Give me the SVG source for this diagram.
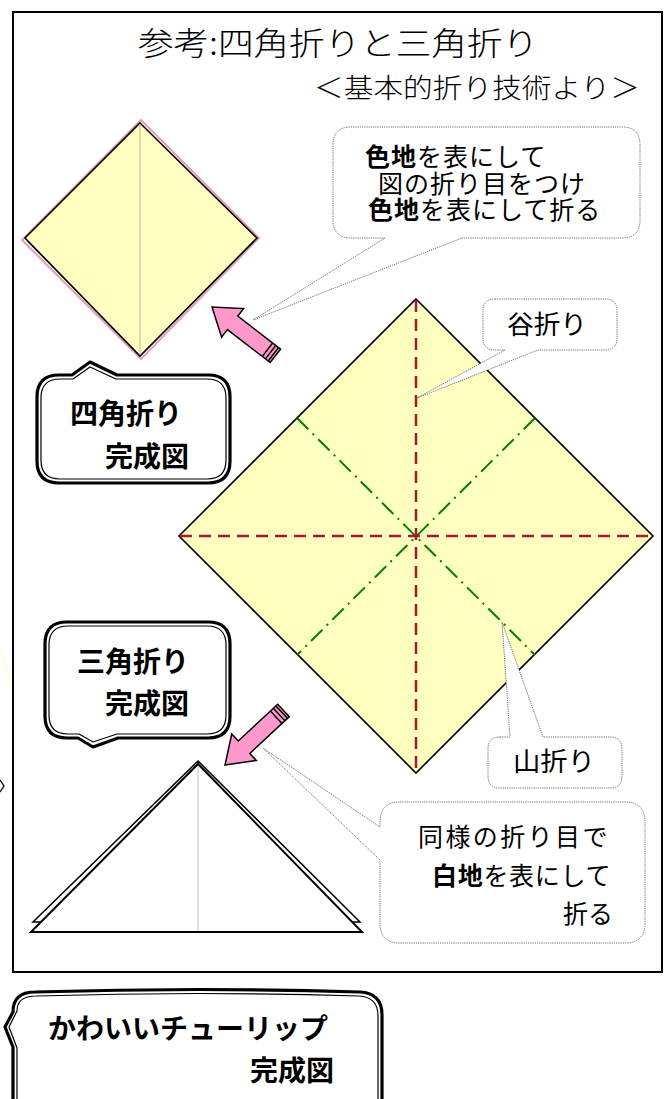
<svg xmlns="http://www.w3.org/2000/svg" width="665" height="1099" viewBox="0 0 665 1099">
  <style>
    text { font-family: "Noto Sans CJK JP", "Noto Sans", sans-serif; fill: #000; }
    .title { font-size: 32px; font-weight: 300; }
    .sub { font-size: 27px; font-weight: 300; }
    .note { font-size: 25px; }
    .b { font-weight: bold; }
    .label { font-size: 28px; font-weight: bold; }
    .bubble { fill: #fff; stroke: #6e6e6e; stroke-width: 1; stroke-dasharray: 1.2 1; }
    .tag-outer { fill: #fff; stroke: #000; stroke-width: 3.2; stroke-linejoin: round; }
    .tag-inner { fill: none; stroke: #000; stroke-width: 1.2; stroke-linejoin: round; }
    .paper { fill: #ffffc0; stroke: #000; stroke-width: 1.6; stroke-linejoin: miter; }
    .valley { stroke: #a8192e; stroke-width: 2.5; stroke-dasharray: 12 7; fill: none; }
    .mountain { stroke: #008000; stroke-width: 2; stroke-dasharray: 16 6 2 6; fill: none; }
    .arrow-body { fill: #ff99cc; stroke: #000; stroke-width: 1.5; stroke-linejoin: miter; }
  </style>
  <defs>
    <!-- pink block arrow, tip at origin pointing along +x -->
    <g id="pencil-arrow">
      <polygon class="arrow-body" points="0,0 -26,-18 -26,-8.5 -80,-8.5 -80,8.5 -26,8.5 -26,18"/>
      <line x1="-70" y1="-8.5" x2="-70" y2="8.5" stroke="#000" stroke-width="1.5"/>
      <line x1="-74" y1="-8.5" x2="-74" y2="8.5" stroke="#000" stroke-width="1.5"/>
      <line x1="-77.5" y1="-8.5" x2="-77.5" y2="8.5" stroke="#000" stroke-width="1.5"/>
    </g>
  </defs>

  <rect width="665" height="1099" fill="#fff"/>

  <!-- stray marks at the far left -->
  <line x1="0" y1="650" x2="12" y2="686" stroke="#ffffb0" stroke-width="1"/>
  <path d="M0,780 L4,786 L0,792" fill="none" stroke="#223" stroke-width="1.5"/>

  <!-- outer frame -->
  <rect id="frame" x="13" y="12" width="649" height="960" fill="none" stroke="#000" stroke-width="2"/>

  <g id="title">
    <text class="title" x="138" y="55" textLength="400" lengthAdjust="spacingAndGlyphs">参考:四角折りと三角折り</text>
    <text class="sub" x="314" y="98" textLength="326" lengthAdjust="spacingAndGlyphs">＜基本的折り技術より＞</text>
  </g>

  <!-- speech bubbles with dotted outlines (tails included in the outline) -->
  <g id="note-square">
    <path class="bubble" d="M351,127 L622,127 Q640,127 640,145 L640,220 Q640,238 622,238 L462,238 L253,320 L385,238 L351,238 Q333,238 333,220 L333,145 Q333,127 351,127 Z"/>
    <text class="note" letter-spacing="1"><tspan x="365" y="166"><tspan class="b">色地</tspan>を表にして</tspan><tspan x="378" y="193">図の折り目をつけ</tspan><tspan x="368" y="219"><tspan class="b">色地</tspan>を表にして折る</tspan></text>
  </g>

  <!-- finished square fold -->
  <g id="square-fold">
    <polygon points="141,120 259,238 141,359 22,240" fill="none" stroke="#e6a0b4" stroke-width="2"/>
    <polyline points="27,241 140,354 255,241" fill="none" stroke="#b8b0e0" stroke-width="1.5"/>
    <polyline points="60,274 140,353 190,304" fill="none" stroke="#a8e0a0" stroke-width="2"/>
    <polygon class="paper" points="140,123 257,238 140,356 25,238" stroke-width="2.2"/>
    <line x1="140" y1="124" x2="140" y2="355" stroke="#c8c0b0" stroke-width="1.2"/>
  </g>

  <g id="arrow-square">
    <use href="#pencil-arrow" transform="translate(212,307) rotate(217.6)"/>
  </g>

  <g id="tag-square">
    <path class="tag-outer" d="M59,375 L72,375 L90,362 L117,375 L208,375 Q230,375 230,397 L230,461 Q230,483 208,483 L59,483 Q37,483 37,461 L37,397 Q37,375 59,375 Z"/>
    <path class="tag-inner" d="M60,379 L73,379 L90,367 L116,379 L207,379 Q226,379 226,398 L226,460 Q226,479 207,479 L60,479 Q41,479 41,460 L41,398 Q41,379 60,379 Z"/>
    <text class="label"><tspan x="70" y="424">四角折り</tspan><tspan x="105" y="467">完成図</tspan></text>
  </g>

  <!-- crease pattern -->
  <g id="crease-diagram">
    <polygon class="paper" points="416,299 653,536 416,773 179,536"/>
    <line class="mountain" x1="297" y1="418" x2="535" y2="655"/>
    <line class="mountain" x1="535" y1="418" x2="297" y2="655"/>
    <line class="valley" x1="416" y1="300" x2="416" y2="772"/>
    <line class="valley" x1="180" y1="536" x2="652" y2="536"/>
  </g>

  <g id="note-valley">
    <path class="bubble" d="M495,299 L605,299 Q617,299 617,311 L617,338 Q617,350 605,350 L538,350 L417,398 L505,350 L495,350 Q483,350 483,338 L483,311 Q483,299 495,299 Z"/>
    <text class="note" x="507" y="334" style="font-size:26px" textLength="80" lengthAdjust="spacingAndGlyphs">谷折り</text>
  </g>

  <g id="note-mountain">
    <path class="bubble" d="M500,737 L510,737 L502,622 L543,737 L610,737 Q622,737 622,749 L622,776 Q622,788 610,788 L500,788 Q488,788 488,776 L488,749 Q488,737 500,737 Z"/>
    <text class="note" x="513" y="771" style="font-size:26px" textLength="82" lengthAdjust="spacingAndGlyphs">山折り</text>
  </g>

  <g id="tag-triangle">
    <path class="tag-outer" d="M67,622 L208,622 Q230,622 230,644 L230,716 Q230,738 208,738 L118,738 L93,747 L78,738 L67,738 Q45,738 45,716 L45,644 Q45,622 67,622 Z"/>
    <path class="tag-inner" d="M68,626 L207,626 Q226,626 226,645 L226,715 Q226,734 207,734 L117,734 L93,742 L79,734 L68,734 Q49,734 49,715 L49,645 Q49,626 68,626 Z"/>
    <text class="label"><tspan x="77" y="672">三角折り</tspan><tspan x="105" y="714">完成図</tspan></text>
  </g>

  <g id="arrow-triangle">
    <use href="#pencil-arrow" transform="translate(225,765) rotate(137)"/>
  </g>

  <g id="note-triangle">
    <path class="bubble" d="M400,802 L625,802 Q645,802 645,822 L645,923 Q645,943 625,943 L400,943 Q380,943 380,923 L380,860 L263,748 L380,827 L380,822 Q380,802 400,802 Z"/>
    <text class="note"><tspan x="418" y="846" letter-spacing="2.4">同様の折り目で</tspan><tspan x="432" y="885" letter-spacing="0.7"><tspan class="b">白地</tspan>を表にして</tspan><tspan x="563" y="923">折る</tspan></text>
  </g>

  <!-- finished triangle fold: back layer then front layer -->
  <g id="triangle-fold">
    <polygon points="198,761 33,922 360,922" fill="#fff" stroke="#000" stroke-width="1.5" stroke-linejoin="miter"/>
    <polygon points="198,764 31,932 362,932" fill="#fff" stroke="#000" stroke-width="2" stroke-linejoin="miter"/>
    <line x1="198" y1="766" x2="198" y2="931" stroke="#cccccc" stroke-width="1.2"/>
  </g>

  <g id="tag-tulip">
    <path class="tag-outer" d="M35,992 Q200,987 360,992 Q382,993 382,1015 L382,1115 L13,1115 L13,1047 L5,1027 L13,1012 Q13,992 35,992 Z"/>
    <path class="tag-inner" d="M36,996 Q200,991 359,996 Q378,997 378,1016 L378,1115 L17,1115 L17,1048 L9,1027 L17,1011 Q17,996 36,996 Z"/>
    <text class="label"><tspan x="48" y="1039">かわいいチューリップ</tspan><tspan x="250" y="1081">完成図</tspan></text>
  </g>
</svg>
